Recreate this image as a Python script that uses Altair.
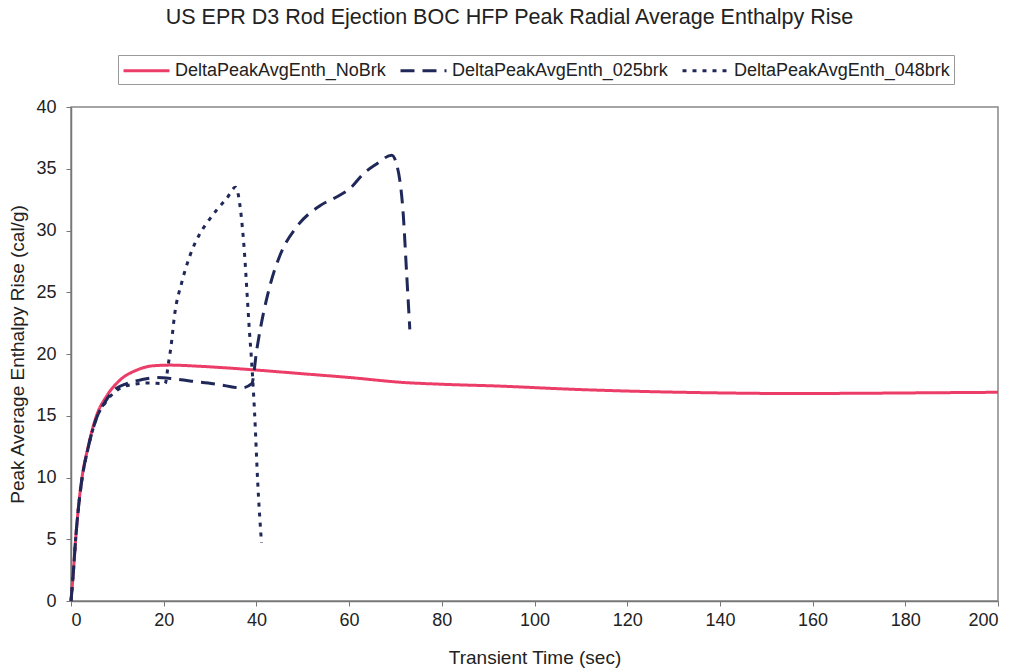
import altair as alt
import pandas as pd

series_names = ["DeltaPeakAvgEnth_NoBrk", "DeltaPeakAvgEnth_025brk", "DeltaPeakAvgEnth_048brk"]

nobrk_t = [0, 0.5, 1.0, 1.6, 2.3, 3.7, 5.5, 7.7, 10.6, 14.2, 17.8, 21.4, 28, 40, 50, 60, 71.5, 80, 92.6, 107.7, 120, 140, 155, 170, 185, 200]
nobrk_v = [0, 2.3, 5.0, 7.6, 9.8, 12.5, 15.0, 16.6, 17.9, 18.7, 19.05, 19.1, 19.0, 18.7, 18.4, 18.1, 17.7, 17.55, 17.4, 17.15, 17.0, 16.85, 16.8, 16.82, 16.86, 16.9]

brk025_t = [0, 0.5, 1.0, 1.6, 2.3, 3.7, 5.5, 7.5, 9.1, 12, 15, 18.5, 22, 26, 29.6, 33, 36.8, 39.0, 40.1, 42.9, 45.1, 48.7, 53.7, 57.7, 60.2, 63.1, 66.0, 69.2, 70.3, 71.7, 72.4, 73.1]
brk025_v = [0, 2.3, 5.0, 7.5, 9.7, 12.4, 14.8, 16.2, 17.0, 17.6, 17.9, 18.1, 18.0, 17.8, 17.65, 17.45, 17.25, 17.6, 20.4, 25.5, 28.0, 30.3, 32.0, 32.8, 33.4, 34.6, 35.4, 36.1, 35.3, 31.2, 26.6, 22.0]

brk048_t = [0, 0.5, 1.0, 1.6, 2.3, 3.7, 5.5, 7.5, 8.8, 12.7, 16.7, 20.3, 21.0, 21.5, 22.4, 23.9, 25.7, 27.6, 29.3, 31.3, 33.6, 35.5, 36.8, 37.5, 38.0, 38.4, 39.0, 39.6, 40.3, 41.1]
brk048_v = [0, 2.3, 5.0, 7.5, 9.7, 12.4, 14.8, 16.1, 16.7, 17.5, 17.65, 17.6, 19.2, 20.4, 23.3, 25.8, 28.0, 29.6, 30.6, 31.6, 32.6, 33.5, 30.9, 27.8, 24.8, 22.4, 19.2, 15.3, 9.5, 4.7]

x_ticks = list(range(0, 201, 20))
y_ticks = list(range(0, 41, 5))

rows = []
for k, (name, ts, vs) in enumerate(zip(series_names, [nobrk_t, brk025_t, brk048_t], [nobrk_v, brk025_v, brk048_v])):
    for i, (t, v) in enumerate(zip(ts, vs)):
        rows.append({"series": name, "t": t, "v": v, "ord": i, "grp": k})
df = pd.DataFrame(rows)

red = "#ec3d68"
navy = "#1f2858"
FONT = "Liberation Sans"

chart = alt.Chart(df).mark_line(strokeWidth=3, interpolate="monotone", strokeCap="butt").encode(
    x=alt.X("t:Q", scale=alt.Scale(domain=[0, 200], nice=False, zero=True),
            axis=alt.Axis(values=x_ticks, title="Transient Time (sec)", titlePadding=19, labelPadding=5)),
    y=alt.Y("v:Q", scale=alt.Scale(domain=[0, 40], nice=False),
            axis=alt.Axis(values=y_ticks, title="Peak Average Enthalpy Rise (cal/g)", titlePadding=8, labelPadding=10)),
    color=alt.Color("series:N", scale=alt.Scale(domain=series_names, range=[red, navy, navy]), title=None),
    strokeDash=alt.StrokeDash("series:N", scale=alt.Scale(domain=series_names, range=[[1, 0], [14, 8], [4, 6]]), title=None),
    order="ord:Q",
).properties(
    width=927,
    height=494,
    title=alt.TitleParams(
        "US EPR D3 Rod Ejection BOC HFP Peak Radial Average Enthalpy Rise",
        fontSize=21.5, font=FONT, fontWeight="normal", color="#222",
        anchor="middle", frame="group", dx=-25, offset=26,
    ),
    autosize=alt.AutoSizeParams(type="none"),
    padding={"left": 71, "top": 107, "right": 22, "bottom": 71},
).configure_view(
    stroke="#888", strokeWidth=1.5
).configure_axis(
    grid=False, domainColor="#777", domainWidth=1.5, tickColor="#777", tickSize=5,
    labelFont=FONT, labelFontSize=18, labelColor="#222",
    titleFont=FONT, titleFontSize=19, titleFontWeight="normal", titleColor="#222",
).configure_legend(
    orient="none", legendX=47, legendY=-52, direction="horizontal",
    symbolType="M-1,0H3.6", symbolSize=400, symbolStrokeWidth=3,
    labelFont=FONT, labelFontSize=18, labelColor="#222", labelLimit=500,
    labelOffset=30, columnPadding=8, padding=4, strokeColor="#999",
    titlePadding=0,
)

chart.save("out.html", embed_options={"renderer": "svg", "actions": False})
